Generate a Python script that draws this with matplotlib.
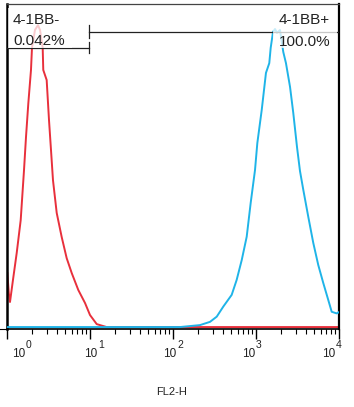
import numpy as np
import matplotlib
matplotlib.use("Agg")
import matplotlib.pyplot as plt
from matplotlib.patches import Rectangle
import matplotlib.transforms as mtransforms

plt.rcParams['font.family'] = ['Liberation Sans', 'DejaVu Sans']

# red histogram (negative population), log10 of FL2-H vs relative count
red_log = [0.004, 0.022, 0.036, 0.072, 0.117, 0.165, 0.205, 0.229, 0.257, 0.289, 0.301,
           0.337, 0.373, 0.398, 0.430, 0.437, 0.478, 0.506, 0.530, 0.554, 0.599,
           0.659, 0.719, 0.780, 0.859, 0.940, 1.000, 1.081, 1.200, 4.000]
red_cnt = [17.2, 11.0, 8.3, 15.1, 23.4, 33.5, 48.9, 59.1, 69.5, 79.7, 86.5,
           92.0, 93.5, 92.0, 86.5, 79.7, 76.6, 64.3, 55.1, 45.8, 35.7,
           28.3, 21.8, 17.2, 12.0, 8.0, 4.3, 1.5, 0.6, 0.6]

# cyan histogram (4-1BB stained)
cyan_log = [0.000, 2.084, 2.325, 2.446, 2.527, 2.606, 2.707, 2.767, 2.828, 2.888,
            2.936, 2.988, 3.016, 3.069, 3.120, 3.160, 3.177, 3.205, 3.229, 3.253,
            3.289, 3.329, 3.361, 3.410, 3.449, 3.494, 3.530, 3.570, 3.630, 3.690,
            3.750, 3.810, 3.871, 3.912, 3.972, 4.000]
cyan_cnt = [0.6, 0.6, 1.2, 2.2, 3.8, 6.9, 10.5, 15.1, 21.2, 28.4,
            38.8, 48.9, 57.2, 67.4, 78.8, 81.8, 86.5, 91.4, 92.3, 91.1,
            92.0, 85.2, 81.8, 74.5, 66.5, 56.0, 48.6, 42.8, 34.5, 26.5,
            19.7, 14.2, 8.9, 5.3, 4.8, 5.2]

# gates
gate_split = 0.988
neg_gate_y = 86.5
pos_gate_y = 91.4
neg_label = ["4-1BB-", "0.042%"]
pos_label = ["4-1BB+", "100.0%"]

decades = [0, 1, 2, 3, 4]
label_shift = [12, 1, -3, -7, -10.5]   # px, where the "10" sits relative to its tick

fig = plt.figure(figsize=(3.54, 4.07), dpi=100)
ax = fig.add_axes([7/354, 78/407, 332/354, 325/407])

x_red = 10 ** np.array(red_log)
x_cyan = 10 ** np.array(cyan_log)
ax.plot(x_red, red_cnt, color='#e8303c', lw=1.4, zorder=2)
ax.plot(x_cyan, cyan_cnt, color='#1fb4e8', lw=1.4, zorder=3)

xs = 10 ** gate_split
ax.plot([1, xs], [neg_gate_y, neg_gate_y], color='#222222', lw=0.9, zorder=4)
ax.plot([xs, xs], [neg_gate_y - 1.7, neg_gate_y + 1.8], color='#222222', lw=0.9, zorder=4)
ax.plot([xs, 1e4], [pos_gate_y, pos_gate_y], color='#222222', lw=0.9, zorder=4)
ax.plot([xs, xs], [pos_gate_y - 1.9, pos_gate_y + 2.1], color='#222222', lw=0.9, zorder=4)

# translucent label backgrounds
ax.add_patch(Rectangle((0.003, 0.865), 0.193, 0.123, transform=ax.transAxes,
                       facecolor='white', alpha=0.75, edgecolor='none', zorder=5))
ax.add_patch(Rectangle((0.801, 0.865), 0.193, 0.123, transform=ax.transAxes,
                       facecolor='white', alpha=0.75, edgecolor='none', zorder=5))

ax.text(0.018, 0.951, neg_label[0], transform=ax.transAxes, fontsize=11,
        ha='left', va='center', color='#222222', zorder=6)
ax.text(0.018, 0.886, neg_label[1], transform=ax.transAxes, fontsize=11,
        ha='left', va='center', color='#222222', zorder=6)
ax.text(0.973, 0.951, pos_label[0], transform=ax.transAxes, fontsize=11,
        ha='right', va='center', color='#222222', zorder=6)
ax.text(0.973, 0.883, pos_label[1], transform=ax.transAxes, fontsize=11,
        ha='right', va='center', color='#222222', zorder=6)

ax.set_xscale('log')
ax.set_xlim(1, 1e4)
ax.set_ylim(0, 100)
ax.set_yticks([])
ax.set_xticks([10.0 ** d for d in decades])
ax.set_xticklabels([])
ax.xaxis.set_minor_locator(matplotlib.ticker.LogLocator(base=10, subs=np.arange(2, 10)))
ax.xaxis.set_minor_formatter(matplotlib.ticker.NullFormatter())
ax.tick_params(axis='x', which='major', direction='out', length=7, width=1)
ax.tick_params(axis='x', which='minor', direction='out', length=3.5, width=0.8)

# "10" with a large superscript, like the cytometer software draws it
xt = ax.get_xaxis_transform()
for d, dx in zip(decades, label_shift):
    t_base = xt + mtransforms.ScaledTranslation(dx/100, -25/100, fig.dpi_scale_trans)
    ax.text(10.0 ** d, 0, "10", transform=t_base, fontsize=8.5, ha='center', va='center',
            color='#222222', clip_on=False)
    t_sup = xt + mtransforms.ScaledTranslation((dx + 7)/100, -16/100, fig.dpi_scale_trans)
    ax.text(10.0 ** d, 0, str(d), transform=t_sup, fontsize=7.5, ha='left', va='center',
            color='#222222', clip_on=False)

fig.text(172/354, 1 - 392/407, 'FL2-H', fontsize=8, ha='center', va='center', color='#222222')

for name, lw, c in [('left', 1.8, 'black'), ('right', 1.6, 'black'),
                    ('bottom', 1.2, 'black'), ('top', 0.9, '#444444')]:
    ax.spines[name].set_linewidth(lw)
    ax.spines[name].set_color(c)

ax.plot([-0.02, 0], [0, 0], transform=ax.transAxes, color='black', lw=0.8, clip_on=False)

fig.savefig('out.png', dpi=100)
